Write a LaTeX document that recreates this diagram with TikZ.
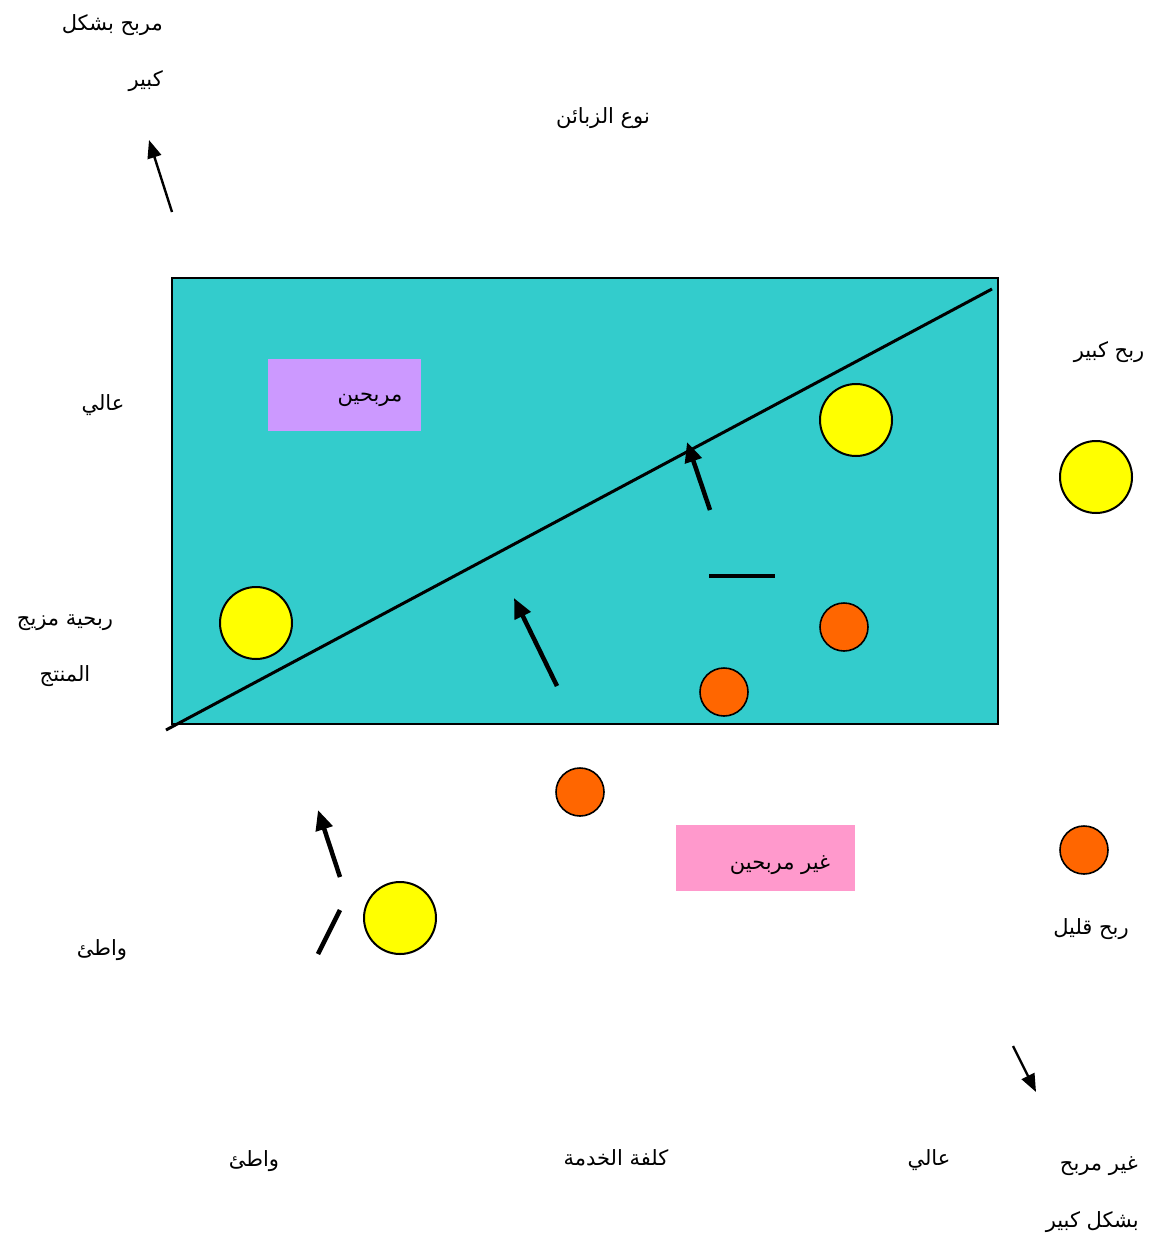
\documentclass[tikz,border=0pt]{standalone}
\usepackage{fontspec}
\newfontfamily\arabicfont[Script=Arabic]{DejaVu Sans}
\TeXXeTstate=1
\usetikzlibrary{arrows.meta}
\definecolor{teal1}{HTML}{33CCCC}
\definecolor{lilac}{HTML}{CC99FF}
\definecolor{pinkb}{HTML}{FF99CC}
\definecolor{yel}{HTML}{FFFF00}
\definecolor{orng}{HTML}{FF6600}
\tikzset{
  lbl/.style={font=\arabicfont\fontsize{21}{25}\selectfont, inner sep=0pt, yshift=-3pt},
  bigdot/.style={circle, draw=black, line width=2pt, fill=yel, minimum size=72pt, inner sep=0pt},
  smalldot/.style={circle, draw=black, line width=1.6pt, fill=orng, minimum size=48pt, inner sep=0pt},
  thinarrow/.style={line width=2.4pt, -{Triangle[length=18pt,width=14pt]}},
  thickarrow/.style={line width=4.5pt, -{Triangle[length=20pt,width=17pt]}},
  thickline/.style={line width=4.5pt},
}
\newcommand{\ar}[1]{\beginR #1\endR}
\begin{document}
\begin{tikzpicture}[x=1pt,y=-1pt]
\useasboundingbox (0,0) rectangle (1157,1236);
% main box
\node[draw=black, line width=1.8pt, fill=teal1, minimum width=826pt, minimum height=446pt, inner sep=0pt] (board) at (585,501) {};
\coordinate (d1) at (166,730);
\coordinate (d2) at (992,289);
\draw[line width=3pt] (d1) -- (d2);
% labelled boxes
\node[fill=lilac, minimum width=153pt, minimum height=72pt, inner sep=0pt] (prof) at (344.5,395) {};
\node[lbl] (proft) at (370,397) {\ar{مربحين}};
\node[fill=pinkb, minimum width=179pt, minimum height=66pt, inner sep=0pt] (nprof) at (765.5,858) {};
\node[lbl] (nproft) at (780,862) {\ar{غير مربحين}};
% circles
\node[bigdot] (y1) at (856,420) {};
\node[bigdot] (y2) at (1096,477) {};
\node[bigdot] (y3) at (256,623) {};
\node[bigdot] (y4) at (400,918) {};
\node[smalldot] (o1) at (844,627) {};
\node[smalldot] (o2) at (724,692) {};
\node[smalldot] (o3) at (580,792) {};
\node[smalldot] (o4) at (1084,850) {};
% arrows
\coordinate (a1s) at (172,212); \coordinate (a1e) at (149,140);
\draw[thinarrow] (a1s) -- (a1e);
\coordinate (a2s) at (710,510); \coordinate (a2e) at (687,442);
\draw[thickarrow] (a2s) -- (a2e);
\coordinate (a3s) at (557,686); \coordinate (a3e) at (514,598);
\draw[thickarrow] (a3s) -- (a3e);
\coordinate (a4s) at (340,877); \coordinate (a4e) at (318,810);
\draw[thickarrow] (a4s) -- (a4e);
\coordinate (a5s) at (1013,1046); \coordinate (a5e) at (1036,1092);
\draw[thinarrow] (a5s) -- (a5e);
% plain strokes
\coordinate (l1s) at (709,576); \coordinate (l1e) at (775,576);
\draw[thickline] (l1s) -- (l1e);
\coordinate (l2s) at (340,910); \coordinate (l2e) at (318,954);
\draw[thickline] (l2s) -- (l2e);
% texts
\node[lbl, anchor=east] (t1) at (163,22) {\ar{مربح بشكل}};
\node[lbl, anchor=east] (t2) at (163,78) {\ar{كبير}};
\node[lbl] (t3) at (603,115) {\ar{نوع الزبائن}};
\node[lbl] (t4) at (103,402) {\ar{عالي}};
\node[lbl] (t5) at (65,620) {\ar{ربحية مزيج}};
\node[lbl] (t6) at (65,673) {\ar{المنتج}};
\node[lbl] (t7) at (102,947) {\ar{واطئ}};
\node[lbl] (t8) at (1109,349) {\ar{ربح كبير}};
\node[lbl] (t9) at (1091,926) {\ar{ربح قليل}};
\node[lbl] (t10) at (254,1158) {\ar{واطئ}};
\node[lbl] (t11) at (616,1155) {\ar{كلفة الخدمة}};
\node[lbl] (t12) at (929,1157) {\ar{عالي}};
\node[lbl, anchor=east] (t13) at (1138,1163) {\ar{غير مربح}};
\node[lbl, anchor=east] (t14) at (1139,1219) {\ar{بشكل كبير}};
\end{tikzpicture}
\end{document}
